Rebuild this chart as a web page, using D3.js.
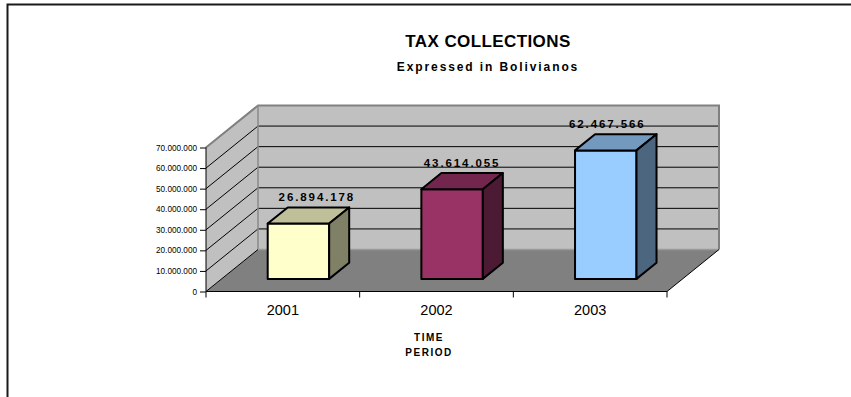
<!DOCTYPE html>
<html>
<head>
<meta charset="utf-8">
<script src="https://cdn.jsdelivr.net/npm/d3@7"></script>
<style>
  html, body { margin: 0; padding: 0; background: #fff; }
  svg { display: block; }
  text { font-family: "Liberation Sans", Arial, sans-serif; fill: #000; }
</style>
</head>
<body>
<svg id="chart" width="851" height="397"></svg>
<script>
// ---- data ----
const categories = ["2001", "2002", "2003"];
const values = [26894178, 43614055, 62467566];
const barColors = ["#FFFFCC", "#993366", "#99CCFF"];
const yTicks = [0, 10000000, 20000000, 30000000, 40000000, 50000000, 60000000, 70000000];
const titleText = "TAX COLLECTIONS";
const subtitleText = "Expressed in Bolivianos";
const axisTitleLines = ["TIME", "PERIOD"];

// ---- layout ----
const svg = d3.select("#chart");
const DX = 52, DY = 42;          // 3D depth offset of the walls
const z0 = 0.30, z1 = 0.685;      // bar depth range (fraction of floor depth)
const barFrac = 0.40;

const x = d3.scaleBand().domain(categories).range([206, 667]).padding(0);
const y = d3.scaleLinear().domain([0, 70000000]).range([291.5, 147.5]);
const bw = x.bandwidth();
const locale = d3.formatLocale({decimal: ",", thousands: ".", grouping: [3], currency: ["", ""]});
const fmt = locale.format(",d");

// frame
svg.append("rect").attr("x", 7.5).attr("y", 4.5).attr("width", 900).attr("height", 500)
  .attr("fill", "none").attr("stroke", "#1a1a1a").attr("stroke-width", 2);

// titles
svg.append("text").attr("x", 488).attr("y", 47).attr("text-anchor", "middle")
  .attr("font-size", 17).attr("font-weight", "bold").attr("letter-spacing", 0.4).text(titleText);
svg.append("text").attr("x", 488).attr("y", 70.5).attr("text-anchor", "middle")
  .attr("font-size", 12).attr("font-weight", "bold").attr("letter-spacing", 1.9).text(subtitleText);

const x0 = x.range()[0], x1 = x.range()[1];
const yMin = y(0), yMax = y(70000000);
const pts = a => a.map(p => p.join(",")).join(" ");

// left wall
svg.append("polygon")
  .attr("points", pts([[x0, yMin], [x0, yMax], [x0 + DX, yMax - DY], [x0 + DX, yMin - DY]]))
  .attr("fill", "#C0C0C0");
// back wall
svg.append("polygon")
  .attr("points", pts([[x0 + DX, yMin - DY], [x0 + DX, yMax - DY], [x1 + DX, yMax - DY], [x1 + DX, yMin - DY]]))
  .attr("fill", "#C0C0C0");
// floor
svg.append("polygon")
  .attr("points", pts([[x0, yMin], [x1, yMin], [x1 + DX, yMin - DY], [x0 + DX, yMin - DY]]))
  .attr("fill", "#808080");

// gridlines
const inner = yTicks.filter(t => t > 0 && t < 70000000);
svg.append("g").selectAll("line.bk").data(inner).join("line")
  .attr("x1", x0 + DX).attr("x2", x1 + DX)
  .attr("y1", d => y(d) - DY).attr("y2", d => y(d) - DY)
  .attr("stroke", "#000").attr("stroke-width", 1);
svg.append("g").selectAll("line.lw").data(inner).join("line")
  .attr("x1", x0).attr("x2", x0 + DX)
  .attr("y1", d => y(d)).attr("y2", d => y(d) - DY)
  .attr("stroke", "#000").attr("stroke-width", 1);

// wall borders
svg.append("polyline")
  .attr("points", pts([[x0, yMax], [x0 + DX, yMax - DY], [x1 + DX, yMax - DY], [x1 + DX, yMin - DY]]))
  .attr("fill", "none").attr("stroke", "#808080").attr("stroke-width", 2);
svg.append("line").attr("x1", x0 + DX).attr("x2", x0 + DX).attr("y1", yMax - DY).attr("y2", yMin - DY)
  .attr("stroke", "#8a8a8a").attr("stroke-width", 1.5);
svg.append("line").attr("x1", x0 + DX).attr("x2", x1 + DX).attr("y1", yMin - DY).attr("y2", yMin - DY)
  .attr("stroke", "#9a9a9a").attr("stroke-width", 1.5);
// floor edges
svg.append("line").attr("x1", x0).attr("y1", yMin).attr("x2", x0 + DX).attr("y2", yMin - DY)
  .attr("stroke", "#000").attr("stroke-width", 1);
svg.append("line").attr("x1", x1).attr("y1", yMin).attr("x2", x1 + DX).attr("y2", yMin - DY)
  .attr("stroke", "#000").attr("stroke-width", 1);

// bars
function shade(c, k) {
  const r = d3.rgb(c);
  return d3.rgb(r.r * k, r.g * k, r.b * k).formatHex();
}
const ddx = (z1 - z0) * DX, ddy = (z1 - z0) * DY;
const bars = categories.map((c, i) => {
  const bx0 = x(c) + (bw - bw * barFrac) / 2 + z0 * DX;
  const bx1 = bx0 + bw * barFrac;
  const yb = y(0) - z0 * DY;
  const yt = y(values[i]) - z0 * DY;
  return {c, v: values[i], col: barColors[i], bx0, bx1, yb, yt};
});
const gb = svg.append("g").attr("stroke", "#000").attr("stroke-width", 2).attr("stroke-linejoin", "round");
bars.forEach(b => {
  gb.append("polygon").attr("points", pts([[b.bx0, b.yb], [b.bx0, b.yt], [b.bx1, b.yt], [b.bx1, b.yb]]))
    .attr("fill", b.col);
  gb.append("polygon").attr("points", pts([[b.bx0, b.yt], [b.bx1, b.yt], [b.bx1 + ddx, b.yt - ddy], [b.bx0 + ddx, b.yt - ddy]]))
    .attr("fill", shade(b.col, 0.75));
  gb.append("polygon").attr("points", pts([[b.bx1, b.yt], [b.bx1 + ddx, b.yt - ddy], [b.bx1 + ddx, b.yb - ddy], [b.bx1, b.yb]]))
    .attr("fill", shade(b.col, 0.5));
});

// data labels
const centerTop = (x0 + x1) / 2 + z0 * DX + ddx / 2;
svg.append("g").selectAll("text").data(bars).join("text")
  .attr("x", b => { const m = (b.bx0 + b.bx1) / 2 + ddx / 2; return m - 0.055 * (m - centerTop); })
  .attr("y", b => b.yt - ddy - 6)
  .attr("text-anchor", "middle").attr("font-size", 11.5).attr("font-weight", "bold")
  .attr("letter-spacing", 1.9)
  .text(b => fmt(b.v));

// y axis
const yAxis = d3.axisLeft(y).tickValues(yTicks).tickFormat(d => fmt(d)).tickSize(6).tickPadding(3);
const gy = svg.append("g").attr("transform", `translate(${x0},0)`).call(yAxis);
gy.select(".domain").attr("stroke", "#000").attr("d", `M0,${yMax}V${yMin}`);
gy.selectAll(".tick line").attr("stroke", "#000");
gy.selectAll(".tick text").attr("font-size", 8.2).attr("font-family", "Liberation Sans, Arial, sans-serif").attr("fill", "#000");

// x axis
svg.append("line").attr("x1", x0).attr("x2", x1).attr("y1", yMin).attr("y2", yMin)
  .attr("stroke", "#000").attr("stroke-width", 1);
const bounds = categories.map(c => x(c)).concat([x1]);
svg.append("g").selectAll("line").data(bounds).join("line")
  .attr("x1", d => d).attr("x2", d => d).attr("y1", yMin).attr("y2", yMin + 6)
  .attr("stroke", "#000").attr("stroke-width", 1);
svg.append("g").selectAll("text").data(categories).join("text")
  .attr("x", c => x(c) + bw / 2).attr("y", 314.5)
  .attr("text-anchor", "middle").attr("font-size", 14.5).text(c => c);

// axis title
svg.append("g").selectAll("text").data(axisTitleLines).join("text")
  .attr("x", 429).attr("y", (d, i) => 340.5 + i * 15.5)
  .attr("text-anchor", "middle").attr("font-size", 10).attr("font-weight", "bold")
  .attr("letter-spacing", 1.5).text(d => d);
</script>
</body>
</html>
